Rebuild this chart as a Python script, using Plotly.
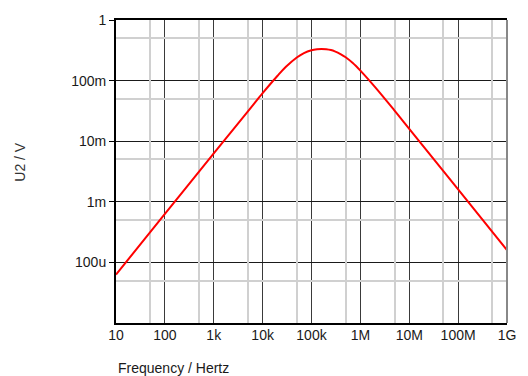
import plotly.graph_objects as go

# Frequency points (Hz) and U2 amplitude (V)
freq = [10, 100, 1e3, 5e3, 1e4, 2e4, 3e4, 5e4, 7e4, 1e5, 1.3e5, 1.6e5, 2e5, 2.5e5,
        3e5, 4e5, 5e5, 7e5, 1e6, 2e6, 5e6, 1e7, 1e8, 1e9]
u2 = [63e-6, 630e-6, 6.3e-3, 31e-3, 62e-3, 119e-3, 169e-3, 241e-3, 285e-3,
      317e-3, 329e-3, 333e-3, 329e-3, 319e-3, 304e-3, 272e-3, 243e-3, 195e-3,
      146e-3, 78e-3, 32e-3, 16e-3, 1.6e-3, 160e-6]

x_tickvals = [10, 100, 1e3, 1e4, 1e5, 1e6, 1e7, 1e8, 1e9]
x_ticktext = ["10", "100", "1k", "10k", "100k", "1M", "10M", "100M", "1G"]
x_minor = [50, 500, 5e3, 5e4, 5e5, 5e6, 5e7, 5e8]

y_tickvals = [1e-4, 1e-3, 1e-2, 1e-1, 1]
y_ticktext = ["100u", "1m", "10m", "100m", "1"]
y_minor = [5e-5, 5e-4, 5e-3, 5e-2, 5e-1]

fig = go.Figure()
fig.add_trace(go.Scatter(x=freq, y=u2, mode="lines", line_shape="spline",
                         line=dict(color="#ff0000", width=2),
                         showlegend=False))
# invisible helper trace to activate the minor-grid axes
fig.add_trace(go.Scatter(x=[freq[0]], y=[u2[0]], xaxis="x2", yaxis="y2",
                         mode="markers", marker=dict(opacity=0),
                         showlegend=False, hoverinfo="skip"))

font = dict(family="Liberation Sans, Arial, sans-serif", size=14, color="#1a1a1a")

fig.update_layout(
    width=528, height=376,
    margin=dict(l=116, r=12, t=17, b=53),
    paper_bgcolor="white", plot_bgcolor="white",
    font=font,
    xaxis2=dict(type="log", range=[1, 9], overlaying="x", side="bottom",
                tickmode="array", tickvals=x_minor, showticklabels=False,
                showgrid=True, gridcolor="#d0d0d0", gridwidth=1.5, ticks="",
                zeroline=False, showline=False),
    yaxis2=dict(type="log", range=[-5, 0], overlaying="y", side="left",
                tickmode="array", tickvals=y_minor, showticklabels=False,
                showgrid=True, gridcolor="#d0d0d0", gridwidth=1.5, ticks="",
                zeroline=False, showline=False),
    xaxis=dict(type="log", range=[1, 9],
               tickmode="array", tickvals=x_tickvals, ticktext=x_ticktext,
               showgrid=True, gridcolor="#3a3a3a", gridwidth=1,
               ticks="", ticklen=0, ticklabelstandoff=-2,
               showline=True, linecolor="black", linewidth=2, mirror=True,
               zeroline=False),
    yaxis=dict(type="log", range=[-5, 0],
               tickmode="array", tickvals=y_tickvals, ticktext=y_ticktext,
               showgrid=True, gridcolor="#1a1a1a", gridwidth=1,
               ticks="outside", ticklen=5, tickcolor="black",
               showline=True, linecolor="black", linewidth=2,
               zeroline=False),
    shapes=[dict(type="line", xref="paper", yref="paper", x0=1, x1=1, y0=0, y1=1,
                 line=dict(color="#888888", width=2))],
    annotations=[
        dict(text="U2 / V", xref="paper", yref="paper", x=-0.2475, y=0.533,
             textangle=-90, showarrow=False, font=dict(size=14, color="#333333"),
             xanchor="center", yanchor="middle"),
        dict(text="Frequency / Hertz", xref="paper", yref="paper", x=0.0, y=-0.147,
             showarrow=False, font=dict(size=14, color="#1a1a1a"),
             xanchor="left", yanchor="middle"),
    ],
)

fig.write_html("out.html")
